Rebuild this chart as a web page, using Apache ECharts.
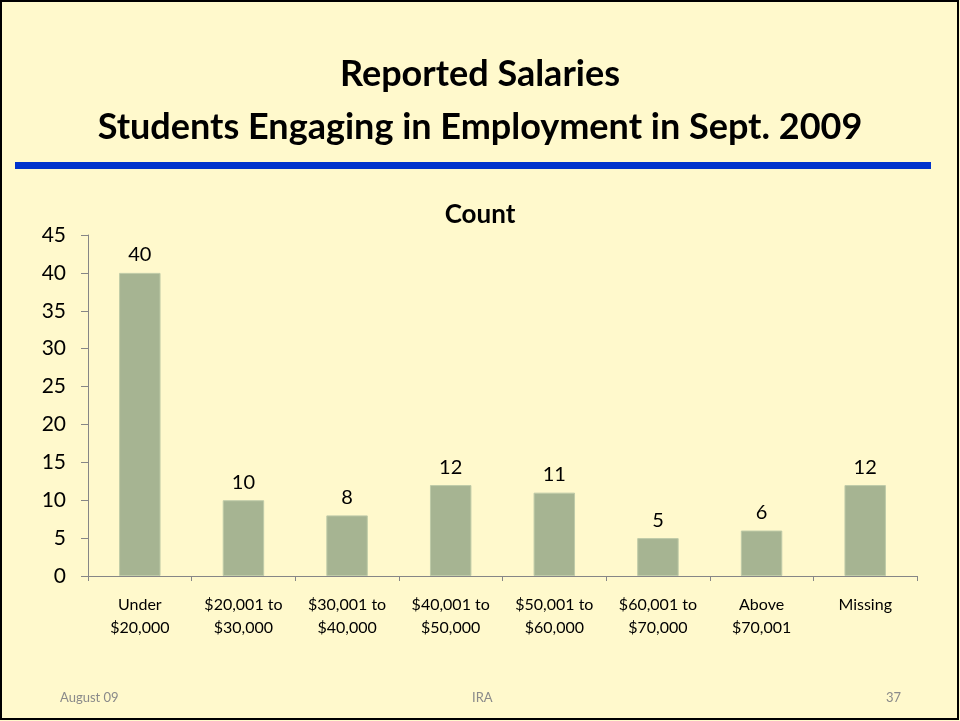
<!DOCTYPE html>
<html><head><meta charset="utf-8">
<script src="https://cdn.jsdelivr.net/npm/echarts@6/dist/echarts.min.js"></script>
<style>html,body{margin:0;padding:0;background:#FFF9CC;}#c{width:960px;height:721px;}</style>
</head><body><div id="c"></div>
<script>
const categories = ['Under\n$20,000','$20,001 to\n$30,000','$30,001 to\n$40,000','$40,001 to\n$50,000','$50,001 to\n$60,000','$60,001 to\n$70,000','Above\n$70,001','Missing'];
const counts = [40, 10, 8, 12, 11, 5, 6, 12];
const yTicks = { min: 0, max: 45, interval: 5 };
const titleLines = ['Reported Salaries', 'Students Engaging in Employment in Sept. 2009'];
const chartTitle = 'Count';
const footer = ['August 09', 'IRA', '37'];

const F = 'Lato, "Open Sans", sans-serif';
const chart = echarts.init(document.getElementById('c'));
chart.setOption({
  backgroundColor: '#FFF9CC',
  animation: false,
  title: [
    { text: titleLines[0], left: 'center', top: 51, textStyle: { fontFamily: F, fontSize: 36, fontWeight: 'bold', color: '#000' } },
    { text: titleLines[1], left: 'center', top: 104, textStyle: { fontFamily: F, fontSize: 36, fontWeight: 'bold', color: '#000' } },
    { text: chartTitle, left: 'center', top: 197, textStyle: { fontFamily: F, fontSize: 26, fontWeight: 'bold', color: '#000' } }
  ],
  graphic: [
    { type: 'rect', shape: { x: 1, y: 1, width: 957, height: 718 }, style: { fill: 'none', stroke: '#000', lineWidth: 2 } },
    { type: 'rect', shape: { x: 15, y: 162, width: 916, height: 7 }, style: { fill: '#0033CC' } },
    { type: 'text', left: 60, top: 691, style: { text: footer[0], font: '13px ' + F, fill: '#8A8A8A' } },
    { type: 'text', left: 472, top: 691, style: { text: footer[1], font: '13px ' + F, fill: '#8A8A8A' } },
    { type: 'text', left: 886, top: 691, style: { text: footer[2], font: '13px ' + F, fill: '#8A8A8A' } }
  ],
  grid: { left: 88, right: 43, top: 235, bottom: 145, containLabel: false },
  xAxis: {
    type: 'category', data: categories,
    axisLine: { lineStyle: { color: '#868686', width: 1 } },
    axisTick: { show: true, alignWithLabel: false, length: 5, lineStyle: { color: '#868686' } },
    axisLabel: { fontFamily: F, fontSize: 16, color: '#000', lineHeight: 23, margin: 17, interval: 0 }
  },
  yAxis: {
    type: 'value', min: yTicks.min, max: yTicks.max, interval: yTicks.interval,
    axisLine: { show: true, lineStyle: { color: '#868686' } },
    axisTick: { show: true, length: 7, inside: false, lineStyle: { color: '#868686' } },
    splitLine: { show: false },
    axisLabel: { fontFamily: F, fontSize: 21, color: '#000', margin: 22 }
  },
  series: [{
    type: 'bar', data: counts, barWidth: '40%',
    itemStyle: { color: '#A6B492', borderColor: '#BFCBA8', borderWidth: 1 },
    label: { show: true, position: 'top', distance: 8, fontFamily: F, fontSize: 20, color: '#000' }
  }]
});
</script></body></html>
